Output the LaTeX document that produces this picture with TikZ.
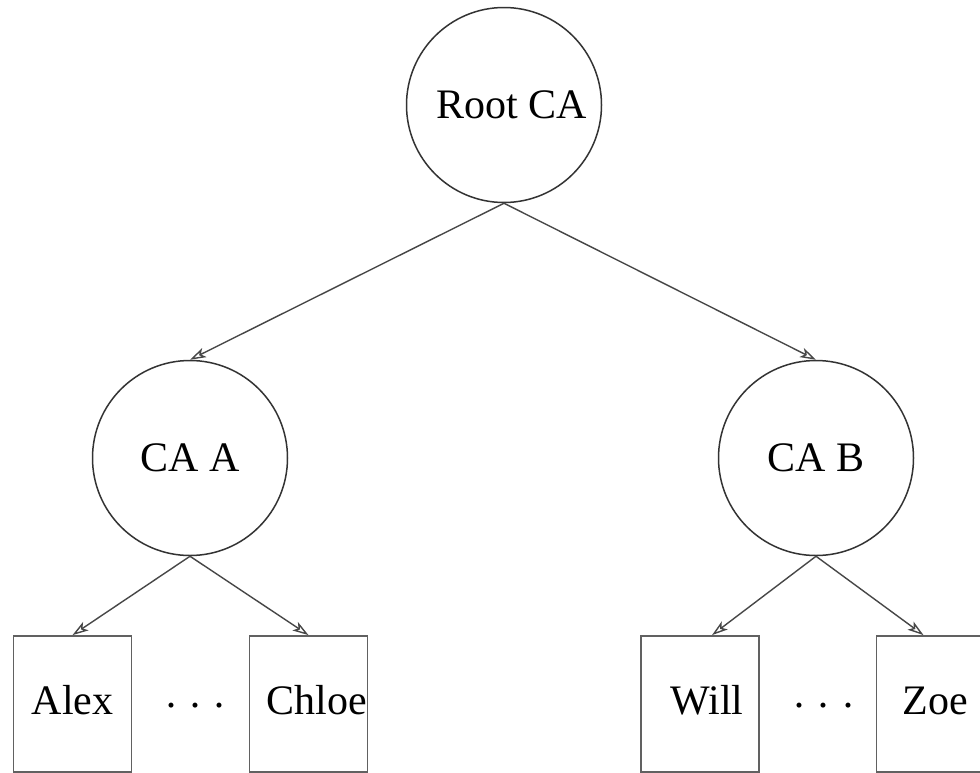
\documentclass[tikz,border=0pt]{standalone}
\usepackage{fontspec}
\setmainfont{Liberation Serif}
\usetikzlibrary{arrows.meta}
\begin{document}
\begin{tikzpicture}[x=1pt,y=-1pt,
  ca/.style={circle,draw=black!80,line width=1.5pt,minimum size=195pt,inner sep=0pt,
    font=\fontsize{42}{50}\selectfont},
  leaf/.style={rectangle,draw=black!62,line width=1.8pt,minimum width=118pt,minimum height=136pt,
    inner sep=0pt,text height=30pt,text depth=10pt,font=\fontsize{42}{50}\selectfont},
  gap/.style={inner sep=0pt,font=\fontsize{42}{50}\selectfont},
  link/.style={draw=black!72,line width=1.4pt,-{Stealth[open,length=16pt,width=10pt,inset=4pt]}}]
  \clip (0,0) rectangle (980,772);
  \fill[white] (0,0) rectangle (980,772);

  % certificate authorities
  \node[ca] (root) at (504,105) {\hspace*{16pt}Root CA};
  \node[ca] (caa)  at (190,458) {CA A};
  \node[ca] (cab)  at (816,458) {CA B};

  % end entities
  \node[leaf] (alex)  at (72.5,704)  {Alex};
  \node[leaf] (chloe) at (308.5,704) {\hspace*{16pt}Chloe};
  \node[leaf] (will)  at (700,704)   {\hspace*{14pt}Will};
  \node[leaf] (zoe)   at (935.5,704) {Zoe};

  \node[gap] (dotsa) at (195.5,711) {·\ ·\ ·};
  \node[gap] (dotsb) at (823.5,711) {·\ ·\ ·};

  % signing relations
  \draw[link] (root.south) -- (caa.north);
  \draw[link] (root.south) -- (cab.north);
  \draw[link] (caa.south) -- (alex.north);
  \draw[link] (caa.south) -- (chloe.north);
  \draw[link] (cab.south) -- ([xshift=12pt]will.north);
  \draw[link] (cab.south) -- ([xshift=-12pt]zoe.north);
\end{tikzpicture}
\end{document}
